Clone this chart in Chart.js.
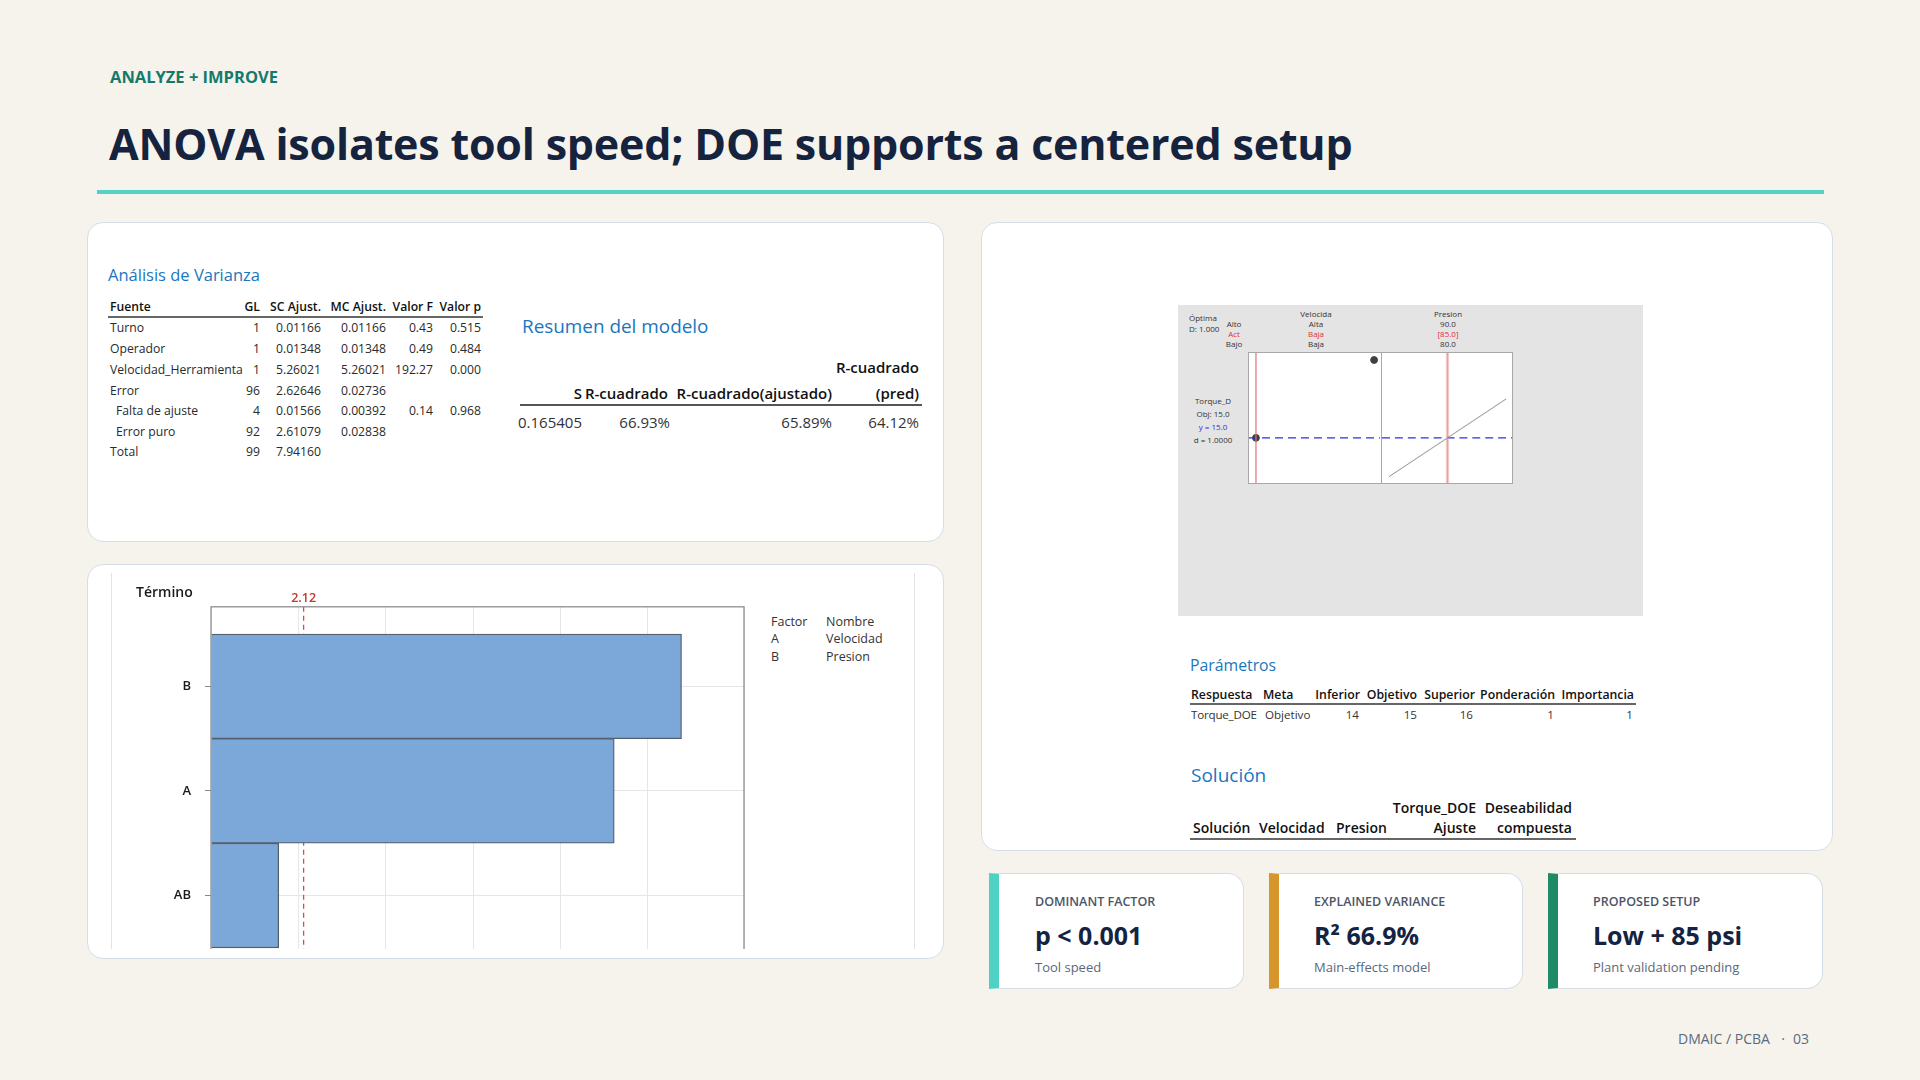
<!DOCTYPE html>
<html><head><meta charset="utf-8">
<script src="https://cdn.jsdelivr.net/npm/chart.js@4.4.1/dist/chart.umd.min.js"></script>
<style>
html,body{margin:0;padding:0;}
body{width:1920px;height:1080px;background:#f6f3ec;position:relative;overflow:hidden;font-family:"Open Sans","Noto Sans",sans-serif;}
.abs{position:absolute;white-space:nowrap;line-height:1;}
.card{position:absolute;background:#fff;border:1.5px solid #d5dee7;border-radius:16px;box-sizing:border-box;}
.kpi{position:absolute;background:#fff;border:1.5px solid #d5dee7;border-left:10px solid #4fd1c5;border-radius:0 16px 16px 0;box-sizing:border-box;}
.rule{position:absolute;background:#333;height:1px;}
</style></head><body>
<div class="card" style="left:87px;top:222px;width:857px;height:320px"></div>
<div class="card" style="left:87px;top:564px;width:857px;height:395px"></div>
<div class="card" style="left:981px;top:222px;width:852px;height:629px"></div>
<div class="kpi" style="left:989px;top:873px;width:255px;height:116px;border-left-color:#4fd1c5"></div>
<div class="kpi" style="left:1269px;top:873px;width:254px;height:116px;border-left-color:#d7962b"></div>
<div class="kpi" style="left:1548px;top:873px;width:275px;height:116px;border-left-color:#1f8a66"></div>
<div style="position:absolute;left:97px;top:190px;width:1727px;height:4px;background:#55d1c6"></div>

<!-- Pareto clip box -->
<div id="parBox" style="position:absolute;left:111px;top:573px;width:802px;height:376px;overflow:hidden;border-left:1px solid #e3e3e3;border-right:1px solid #e3e3e3;background:#fff">
  <canvas id="pareto" width="610" height="425" style="position:absolute;left:38px;top:12px"></canvas>
</div>

<!-- optimizer gray box -->
<div style="position:absolute;left:1178px;top:305px;width:465px;height:311px;background:#e4e4e4"></div>
<div style="position:absolute;left:1248px;top:352px;width:265px;height:132px;border:1px solid #a8a8a8;box-sizing:border-box;background:#fff">
  <canvas id="optA" width="131" height="130" style="position:absolute;left:0;top:0"></canvas>
  <canvas id="optB" width="131" height="130" style="position:absolute;left:132px;top:0;border-left:1px solid #a8a8a8"></canvas>
</div>

<script>
// ---------------- DATA ----------------
const eyebrow = 'ANALYZE + IMPROVE';
const title = 'ANOVA isolates tool speed; DOE supports a centered setup';

// ANOVA table
const anovaHeader = ['Fuente', 'GL', 'SC Ajust.', 'MC Ajust.', 'Valor F', 'Valor p'];
const anovaSource = ['Turno', 'Operador', 'Velocidad_Herramienta', 'Error', 'Falta de ajuste', 'Error puro', 'Total'];
const anovaIndent = [false, false, false, false, true, true, false];
const anovaGL = ['1', '1', '1', '96', '4', '92', '99'];
const anovaSC = ['0.01166', '0.01348', '5.26021', '2.62646', '0.01566', '2.61079', '7.94160'];
const anovaMC = ['0.01166', '0.01348', '5.26021', '0.02736', '0.00392', '0.02838', ''];
const anovaF = ['0.43', '0.49', '192.27', '', '0.14', '', ''];
const anovaP = ['0.515', '0.484', '0.000', '', '0.968', '', ''];

// Model summary
const summaryHeaderTop = ['', '', '', 'R-cuadrado'];
const summaryHeader = ['S', 'R-cuadrado', 'R-cuadrado(ajustado)', '(pred)'];
const summaryValues = ['0.165405', '66.93%', '65.89%', '64.12%'];

// Pareto of standardized effects
const paretoTerms = ['B', 'A', 'AB'];
const paretoEffects = [10.77, 9.23, 1.55];
const paretoRef = 2.12;
const paretoAxisMax = 12.2;
const factorCodes = ['A', 'B'];
const factorNames = ['Velocidad', 'Presion'];

// Response optimizer
const velLevels = ['Baja', 'Alta'];
const velTorque = [15.0, 16.0];
const velSetting = 0;            // index of Baja
const presLevels = [80, 90];
const presTorque = [14.5, 15.5];
const presSetting = 85;
const torqueTarget = 15.0;
const torqueRange = [14.42, 16.09];

// Parameters table
const paramHeader = ['Respuesta', 'Meta', 'Inferior', 'Objetivo', 'Superior', 'Ponderación', 'Importancia'];
const paramRow = ['Torque_DOE', 'Objetivo', '14', '15', '16', '1', '1'];

// Solution table header
const solHeaderTop = ['Torque_DOE', 'Deseabilidad'];
const solHeader = ['Solución', 'Velocidad', 'Presion', 'Ajuste', 'compuesta'];

// KPI cards
const kpiLabels = ['DOMINANT FACTOR', 'EXPLAINED VARIANCE', 'PROPOSED SETUP'];
const kpiValues = ['p < 0.001', 'R² 66.9%', 'Low + 85 psi'];
const kpiSubs = ['Tool speed', 'Main-effects model', 'Plant validation pending'];
const footer = ['DMAIC / PCBA', '·', '03'];

// ---------------- TEXT HELPERS ----------------
function put(text, x, y, o) {
  o = o || {};
  const s = document.createElement('span');
  s.className = 'abs';
  s.textContent = text;
  const al = o.align || 'left';
  if (al === 'right') s.style.right = (1920 - x) + 'px'; else s.style.left = x + 'px';
  s.style.top = y + 'px';
  s.style.transform = (al === 'center' ? 'translateX(-50%) ' : '') + 'translateY(-50%)';
  s.style.fontSize = (o.size || 13) + 'px';
  s.style.fontWeight = o.weight || 400;
  s.style.color = o.color || '#222';
  if (o.ls) s.style.letterSpacing = o.ls;
  document.body.appendChild(s);
  return s;
}
function rule(x1, x2, y, color, h) {
  const d = document.createElement('div');
  d.className = 'rule';
  d.style.left = x1 + 'px'; d.style.width = (x2 - x1) + 'px'; d.style.top = y + 'px';
  d.style.background = color || '#555'; d.style.height = (h || 1) + 'px';
  document.body.appendChild(d);
}

// header
put(eyebrow, 110, 77, {size: 16.5, weight: 700, color: '#137a6c'});
put(title, 109, 143, {size: 43, weight: 700, color: '#15233f', ls: '-0.2px'});

// ANOVA
const minBlue = '#1b76bd';
put('Análisis de Varianza', 108, 275, {size: 16.5, color: minBlue});
const anovaRight = [null, 260, 321, 386, 433, 481];
const tSize = 12.2;
put(anovaHeader[0], 110, 307, {size: tSize, weight: 600, color: '#111'});
for (let c = 1; c < anovaHeader.length; c++) put(anovaHeader[c], anovaRight[c], 307, {size: tSize, weight: 600, color: '#111', align: 'right'});
rule(108, 483, 316, '#666', 1.5);
const rowY = [328, 349, 370, 391, 411, 432, 452];
const anovaCols = [anovaGL, anovaSC, anovaMC, anovaF, anovaP];
anovaSource.forEach((src, i) => {
  put(src, anovaIndent[i] ? 116 : 110, rowY[i], {size: tSize, color: '#2a2a2a'});
  anovaCols.forEach((col, c) => { if (col[i]) put(col[i], anovaRight[c + 1], rowY[i], {size: tSize, color: '#2a2a2a', align: 'right'}); });
});

// Model summary
put('Resumen del modelo', 522, 326, {size: 18.9, color: minBlue});
const sumRight = [582, 668, 832, 919];
summaryHeaderTop.forEach((t, i) => { if (t) put(t, sumRight[i], 367, {size: 15, weight: 600, color: '#111', align: 'right'}); });
summaryHeader.forEach((t, i) => put(t, sumRight[i], 393, {size: 15, weight: 600, color: '#111', align: 'right'}));
rule(520, 922, 404, '#555', 1.5);
const sumValRight = [582, 670, 832, 919];
summaryValues.forEach((t, i) => put(t, sumValRight[i], 422, {size: 15, color: '#333', align: 'right'}));

// Pareto extra texts
put('Término', 136, 592, {size: 14, weight: 600, color: '#1a1a1a'});
put('Factor', 771, 622, {size: 12.5, color: '#333'});
put('Nombre', 826, 622, {size: 12.5, color: '#333'});
factorCodes.forEach((c, i) => {
  put(c, 771, 639 + i * 17.5, {size: 12.5, color: '#333'});
  put(factorNames[i], 826, 639 + i * 17.5, {size: 12.5, color: '#333'});
});

// Optimizer texts
const tiny = 8;
put('Óptima', 1189, 318, {size: tiny, color: '#333'});
put('D: 1.000', 1189, 329, {size: tiny, color: '#333'});
put('Alto', 1234, 324, {size: tiny, color: '#333', align: 'center'});
put('Act', 1234, 334, {size: tiny, color: '#e03030', align: 'center'});
put('Bajo', 1234, 344, {size: tiny, color: '#333', align: 'center'});
put('Velocida', 1316, 314, {size: tiny, color: '#333', align: 'center'});
put(velLevels[1], 1316, 324, {size: tiny, color: '#333', align: 'center'});
put(velLevels[velSetting], 1316, 334, {size: tiny, color: '#e03030', align: 'center'});
put(velLevels[0], 1316, 344, {size: tiny, color: '#333', align: 'center'});
put('Presion', 1448, 314, {size: tiny, color: '#333', align: 'center'});
put(presLevels[1].toFixed(1), 1448, 324, {size: tiny, color: '#333', align: 'center'});
put('[' + presSetting.toFixed(1) + ']', 1448, 334, {size: tiny, color: '#e03030', align: 'center'});
put(presLevels[0].toFixed(1), 1448, 344, {size: tiny, color: '#333', align: 'center'});
put('Torque_D', 1213, 401, {size: tiny, color: '#333', align: 'center'});
put('Obj: ' + torqueTarget.toFixed(1), 1213, 414, {size: tiny, color: '#333', align: 'center'});
put('y = ' + torqueTarget.toFixed(1), 1213, 427, {size: tiny, color: '#3030e0', align: 'center'});
put('d = 1.0000', 1213, 440, {size: tiny, color: '#333', align: 'center'});

// Parameters
put('Parámetros', 1190, 666, {size: 15.8, color: minBlue});
const paramX = [[1191, 'left'], [1263, 'left'], [1360, 'right'], [1417, 'right'], [1475, 'right'], [1555, 'right'], [1634, 'right']];
paramHeader.forEach((t, i) => put(t, paramX[i][0], 695, {size: 12.3, weight: 600, color: '#111', align: paramX[i][1]}));
rule(1190, 1636, 703, '#666', 1.5);
const paramValX = [[1191, 'left'], [1265, 'left'], [1359, 'right'], [1417, 'right'], [1473, 'right'], [1554, 'right'], [1633, 'right']];
paramRow.forEach((t, i) => put(t, paramValX[i][0], 715, {size: 11.6, color: '#333', align: paramValX[i][1], ls: i === 0 ? '-0.2px' : null}));

// Solution
put('Solución', 1191, 775, {size: 19, color: minBlue});
put(solHeaderTop[0], 1476, 808, {size: 14, weight: 600, color: '#111', align: 'right'});
put(solHeaderTop[1], 1572, 808, {size: 14, weight: 600, color: '#111', align: 'right'});
const solX = [[1193, 'left'], [1259, 'left'], [1336, 'left'], [1476, 'right'], [1572, 'right']];
solHeader.forEach((t, i) => put(t, solX[i][0], 828, {size: 14, weight: 600, color: '#111', align: solX[i][1]}));
rule(1190, 1576, 838, '#666', 1.5);

// KPIs
const kpiX = [1035, 1314, 1593];
kpiLabels.forEach((t, i) => {
  put(t, kpiX[i], 902, {size: 12.5, weight: 600, color: '#4b5567'});
  put(kpiValues[i], kpiX[i], 935, {size: 25, weight: 700, color: '#14233f'});
  put(kpiSubs[i], kpiX[i], 967, {size: 13, color: '#5b687b'});
});
put(footer[0], 1678, 1039, {size: 14, color: '#5a6a80'});
put(footer[1], 1783, 1039, {size: 14, color: '#5a6a80', align: 'center'});
put(footer[2], 1793, 1039, {size: 14, color: '#5a6a80'});

// ---------------- CHARTS ----------------
Chart.defaults.font.family = '"Open Sans", sans-serif';

const framePlugin = {
  id: 'frame',
  afterDatasetsDraw(chart) {
    const a = chart.chartArea, c = chart.ctx;
    c.save(); c.strokeStyle = '#8f8f8f'; c.lineWidth = 1.3;
    c.strokeRect(a.left, a.top, a.right - a.left, a.bottom - a.top);
    c.restore();
  }
};
const refPlugin = {
  id: 'refline',
  beforeDatasetsDraw(chart) {
    const a = chart.chartArea, c = chart.ctx;
    const x = chart.scales.x.getPixelForValue(paretoRef);
    c.save();
    c.strokeStyle = '#e04848'; c.lineWidth = 1.3; c.setLineDash([5, 4]);
    c.beginPath(); c.moveTo(x, a.top); c.lineTo(x, a.bottom); c.stroke();
    c.setLineDash([]);
    c.fillStyle = '#c0392b'; c.font = '600 12.5px "Open Sans", sans-serif';
    c.textAlign = 'center'; c.textBaseline = 'bottom';
    c.fillText(paretoRef.toFixed(2), x, a.top - 2);
    c.restore();
  }
};

new Chart(document.getElementById('pareto'), {
  type: 'bar',
  data: {
    datasets: [{
      data: paretoTerms.map((t, i) => ({x: paretoEffects[i], y: i})),
      backgroundColor: '#7ca7d9',
      borderColor: '#55606d',
      borderWidth: 1.3,
      barPercentage: 1,
      categoryPercentage: 1
    }]
  },
  options: {
    indexAxis: 'y',
    responsive: false,
    animation: false,
    devicePixelRatio: 1,
    layout: {padding: {top: 20, right: 16, left: 0, bottom: 0}, autoPadding: false},
    plugins: {legend: {display: false}, tooltip: {enabled: false}},
    scales: {
      x: {
        type: 'linear', min: 0, max: paretoAxisMax,
        ticks: {stepSize: 2, color: '#333', font: {size: 12}},
        grid: {color: '#e6e6e6', tickColor: '#888'},
        border: {display: false},
        afterFit: (a) => { a.height = 35; }
      },
      y: {
        type: 'linear', min: -0.76, max: paretoTerms.length - 1 + 0.76, reverse: true,
        offset: false,
        afterBuildTicks: (a) => { a.ticks = paretoTerms.map((t, i) => ({value: i})); },
        ticks: {callback: (v) => paretoTerms[v], color: '#1a1a1a', font: {size: 13, weight: '600'}, padding: 14},
        grid: {color: '#e6e6e6', tickLength: 6, tickColor: '#888', offset: false},
        border: {display: false},
        afterFit: (a) => { a.width = 61; }
      }
    }
  },
  plugins: [refPlugin, framePlugin]
});

function optChart(id, pts, setX, xMin, xMax, isLine) {
  const datasets = [
    {data: [{x: setX, y: torqueRange[0]}, {x: setX, y: torqueRange[1]}], showLine: true, pointRadius: 0,
     borderColor: isLine ? '#eaa0a0' : '#e07474', borderWidth: isLine ? 2.4 : 1.2},
    {data: [{x: xMin, y: torqueTarget}, {x: xMax, y: torqueTarget}], showLine: true, pointRadius: 0,
     borderColor: '#2a2ef0', borderWidth: 1.4, borderDash: [8, 5]}
  ];
  if (isLine) datasets.unshift({data: pts, showLine: true, pointRadius: 0, borderColor: '#8c8c8c', borderWidth: 1});
  else datasets.push({data: pts, showLine: false, pointRadius: 3.4, backgroundColor: '#3f3f3f', borderColor: '#3f3f3f'});
  new Chart(document.getElementById(id), {
    type: 'scatter',
    data: {datasets},
    options: {
      responsive: false, animation: false, devicePixelRatio: 1,
      layout: {padding: 0, autoPadding: false},
      plugins: {legend: {display: false}, tooltip: {enabled: false}},
      elements: {line: {tension: 0}},
      scales: {
        x: {type: 'linear', min: xMin, max: xMax, display: false},
        y: {type: 'linear', min: torqueRange[0], max: torqueRange[1], display: false}
      }
    }
  });
}
optChart('optA', velTorque.map((v, i) => ({x: i, y: v})), velSetting, -0.059, 1.05, false);
optChart('optB', presLevels.map((p, i) => ({x: p, y: presTorque[i]})), presSetting, 79.42, 90.5, true);
</script>
</body></html>
